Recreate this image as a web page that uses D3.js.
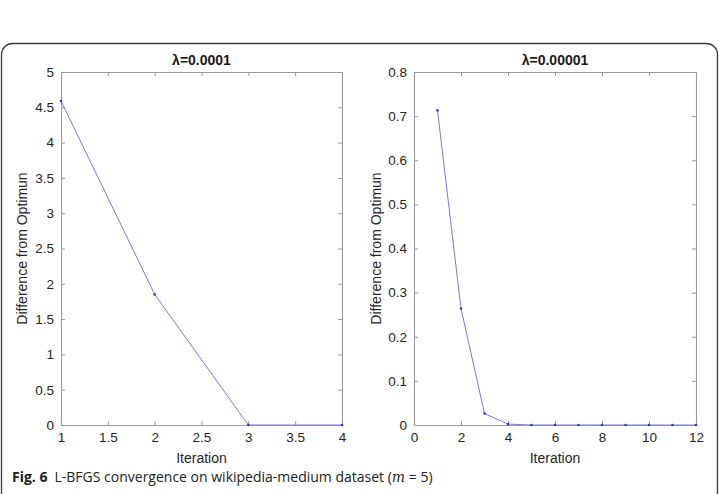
<!DOCTYPE html>
<html>
<head>
<meta charset="utf-8">
<script src="https://cdn.jsdelivr.net/npm/d3@7"></script>
<style>
  body { margin: 0; background: #fff; }
  svg { display: block; }
</style>
</head>
<body>
<div id="chart"></div>
<script>
// values
const leftIter = [1, 2, 3, 4];
const leftDiff = [4.59, 1.85, 0.0, 0.0];
const rightIter = [1, 2, 3, 4, 5, 6, 7, 8, 9, 10, 11, 12];
const rightDiff = [0.713, 0.264, 0.026, 0.002, 0, 0, 0, 0, 0, 0, 0, 0];

const leftXTicks = [1, 1.5, 2, 2.5, 3, 3.5, 4];
const leftYTicks = [0, 0.5, 1, 1.5, 2, 2.5, 3, 3.5, 4, 4.5, 5];
const rightXTicks = [0, 2, 4, 6, 8, 10, 12];
const rightYTicks = [0, 0.1, 0.2, 0.3, 0.4, 0.5, 0.6, 0.7, 0.8];

const W = 719, H = 494;
const svg = d3.select("#chart").append("svg")
  .attr("width", W).attr("height", H);

// frame round the figure
svg.append("rect")
  .attr("x", 1.5).attr("y", 43.5)
  .attr("width", 716).attr("height", 462)
  .attr("rx", 11)
  .attr("fill", "none")
  .attr("stroke", "#3a3a3a")
  .attr("stroke-width", 1.3);

const axisColor = "#9a9a9a";
const textColor = "#262626";
const lineColor = "#7878ee";
const font = "Liberation Sans, Arial, sans-serif";

function panel(opt) {
  const x = d3.scaleLinear().domain(opt.xDomain).range([opt.left, opt.right]);
  const y = d3.scaleLinear().domain(opt.yDomain).range([opt.bottom, opt.top]);
  const g = svg.append("g");

  const fmt = d => String(d);

  const bottomAxis = d3.axisBottom(x).tickValues(opt.xTicks).tickSize(-4).tickPadding(7).tickFormat(fmt);
  const topAxis = d3.axisTop(x).tickValues(opt.xTicks).tickSize(-4).tickFormat("");
  const leftAxis = d3.axisLeft(y).tickValues(opt.yTicks).tickSize(-4).tickPadding(7).tickFormat(fmt);
  const rightAxis = d3.axisRight(y).tickValues(opt.yTicks).tickSize(-4).tickFormat("");

  const styleAxis = sel => {
    sel.select(".domain").attr("stroke", axisColor);
    sel.selectAll(".tick line").attr("stroke", axisColor);
    sel.selectAll(".tick text")
      .attr("fill", textColor)
      .attr("font-family", font)
      .attr("font-size", 13.5);
  };

  g.append("g").attr("transform", `translate(0,${opt.bottom})`).call(bottomAxis).call(styleAxis);
  g.append("g").attr("transform", `translate(0,${opt.top})`).call(topAxis).call(styleAxis);
  g.append("g").attr("transform", `translate(${opt.left},0)`).call(leftAxis).call(styleAxis);
  g.append("g").attr("transform", `translate(${opt.right},0)`).call(rightAxis).call(styleAxis);
  g.selectAll(".domain").attr("stroke-width", 1.1);

  const pts = opt.xs.map((d, i) => [d, opt.ys[i]]);
  g.append("path")
    .datum(pts)
    .attr("fill", "none")
    .attr("stroke", lineColor)
    .attr("stroke-width", 1)
    .attr("d", d3.line().x(d => x(d[0])).y(d => y(d[1])));

  g.selectAll("circle.pt")
    .data(pts)
    .enter()
    .append("circle")
    .attr("class", "pt")
    .attr("cx", d => x(d[0]))
    .attr("cy", d => y(d[1]))
    .attr("r", 1.3)
    .attr("fill", "#3434d8");

  g.append("text")
    .text(opt.title)
    .attr("x", (opt.left + opt.right) / 2)
    .attr("y", opt.top - 7)
    .attr("text-anchor", "middle")
    .attr("font-family", font)
    .attr("font-weight", "bold")
    .attr("font-size", 14)
    .attr("fill", "#1a1a1a");

  g.append("text")
    .text("Iteration")
    .attr("x", (opt.left + opt.right) / 2)
    .attr("y", opt.bottom + 38)
    .attr("text-anchor", "middle")
    .attr("font-family", font)
    .attr("font-size", 14)
    .attr("fill", textColor);

  g.append("text")
    .text("Difference from Optimun")
    .attr("transform", `translate(${opt.yLabelX},${(opt.top + opt.bottom) / 2}) rotate(-90)`)
    .attr("text-anchor", "middle")
    .attr("font-family", font)
    .attr("font-size", 14)
    .attr("fill", textColor);
}

panel({
  left: 61, right: 342, top: 72, bottom: 425,
  xDomain: [1, 4], yDomain: [0, 5],
  xTicks: leftXTicks, yTicks: leftYTicks,
  xs: leftIter, ys: leftDiff,
  title: "\u03bb=0.0001", yLabelX: 27
});

panel({
  left: 414, right: 696, top: 72, bottom: 425,
  xDomain: [0, 12], yDomain: [0, 0.8],
  xTicks: rightXTicks, yTicks: rightYTicks,
  xs: rightIter, ys: rightDiff,
  title: "\u03bb=0.00001", yLabelX: 381
});

// caption
const cap = svg.append("text")
  .attr("x", 12).attr("y", 482)
  .attr("font-family", "Open Sans, sans-serif")
  .attr("font-size", 14)
  .attr("fill", "#222");
cap.append("tspan").attr("font-weight", "bold").text("Fig. 6");
cap.append("tspan").attr("dx", 7).text("L-BFGS convergence on wikipedia-medium dataset (");
cap.append("tspan").attr("font-style", "italic").attr("font-family", "DejaVu Serif, serif").text("m");
cap.append("tspan").text(" = 5)");
</script>
</body>
</html>
